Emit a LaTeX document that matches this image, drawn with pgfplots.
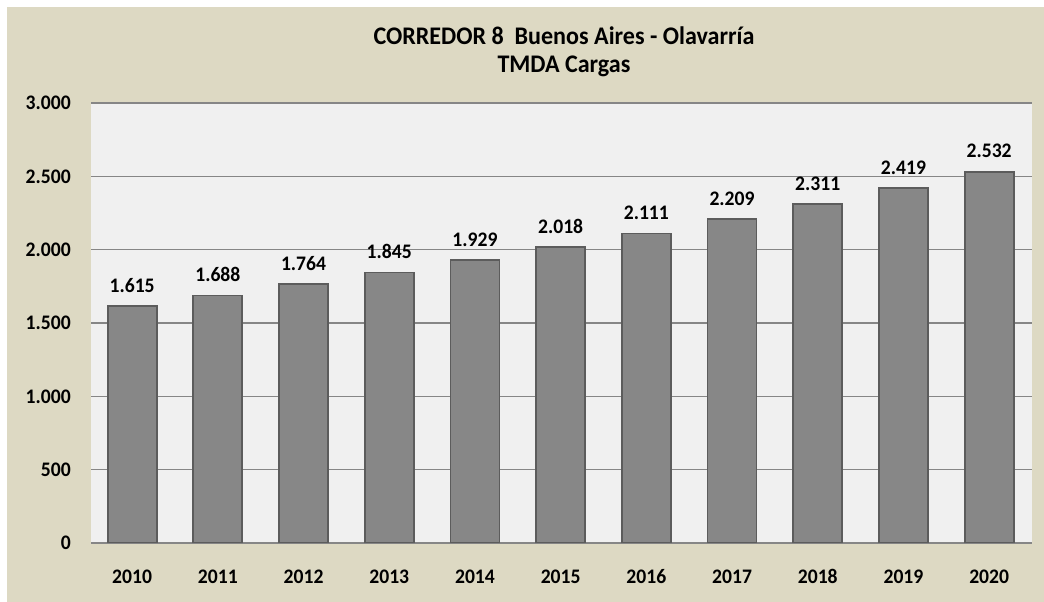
\documentclass[border=0pt]{standalone}
\usepackage{pgfplots}
\pgfplotsset{compat=1.18}
\usepackage{fontspec}
\setmainfont[FakeStretch=0.95]{Carlito}

\definecolor{fondo}{RGB}{221,217,195}
\definecolor{areaplot}{RGB}{240,240,240}
\definecolor{grilla}{RGB}{134,134,134}
\definecolor{barra}{RGB}{135,135,135}
\definecolor{borde}{RGB}{92,92,92}

\begin{document}
\begin{tikzpicture}
% fondo del grafico (1px = 0.75pt)
\fill[white] (0,0) rectangle (783pt,451.5pt);
\fill[fondo] (5.25pt,0) rectangle (783pt,446.25pt);

\node[font=\bfseries\fontsize{19}{22}\selectfont, anchor=base] at (423pt,417.75pt) {CORREDOR 8\ \ Buenos Aires - Olavarría};
\node[font=\bfseries\fontsize{19}{22}\selectfont, anchor=base] at (423pt,396.75pt) {TMDA Cargas};

\begin{axis}[
    at={(68.25pt,44.25pt)}, anchor=south west,
    scale only axis,
    width=705.75pt, height=330pt,
    ybar, bar width=36.75pt,
    xmin=-0.48, xmax=10.5,
    ymin=0, ymax=3000,
    ytick={0,500,...,3000},
    xtick=data,
    xticklabels={2010,2011,2012,2013,2014,2015,2016,2017,2018,2019,2020},
    major tick length=0pt,
    axis line style={draw=none},
    axis background/.style={fill=areaplot},
    ymajorgrids,
    major grid style={grilla, line width=0.9pt},
    /pgf/number format/.cd, 1000 sep={.}, assume math mode=true, /pgfplots/.cd,
    tick label style={font=\bfseries\fontsize{15.5}{18}\selectfont, inner sep=0pt},
    yticklabel style={anchor=east, xshift=-15pt},
    xticklabel style={anchor=base, yshift=-30.4pt},
    nodes near coords,
    every node near coord/.append style={font=\bfseries\fontsize{15.5}{18}\selectfont, anchor=base, inner sep=0pt, yshift=10.5pt, text=black},
]
\addplot[fill=barra, draw=borde, line width=1.3pt] coordinates {
(0,1615) (1,1688) (2,1764) (3,1845) (4,1929) (5,2018)
(6,2111) (7,2209) (8,2311) (9,2419) (10,2532)
};
\end{axis}
\end{tikzpicture}
\end{document}
